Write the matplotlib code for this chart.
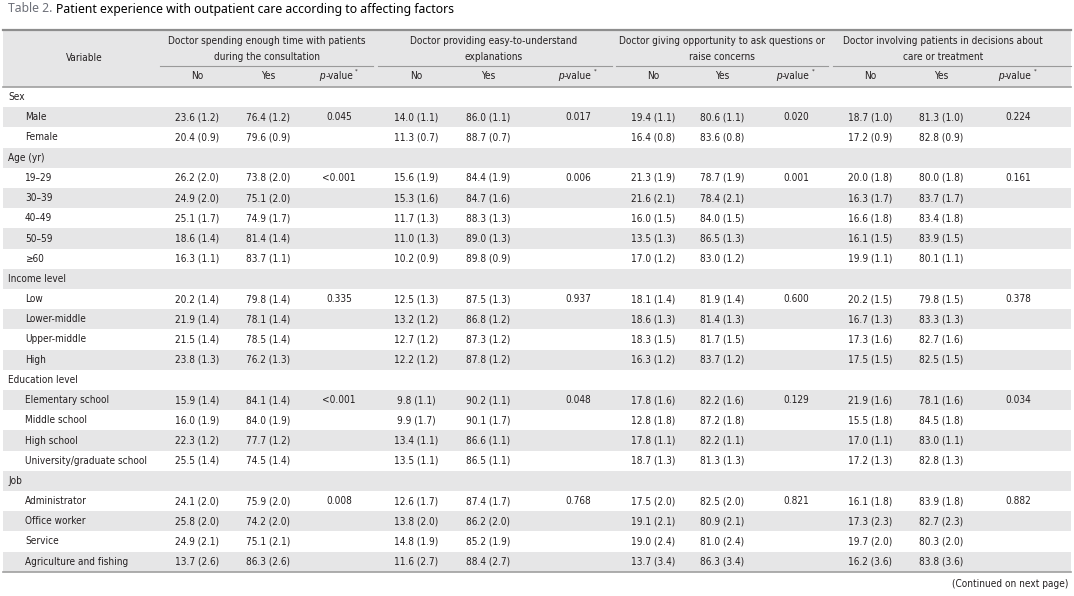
import matplotlib.pyplot as plt
from matplotlib import font_manager as fm
from matplotlib.patches import Rectangle

# Datos de la tabla
title_num = "Table 2."
title_txt = "Patient experience with outpatient care according to affecting factors"
questions = [("Doctor spending enough time with patients", "during the consultation"),
             ("Doctor providing easy-to-understand", "explanations"),
             ("Doctor giving opportunity to ask questions or", "raise concerns"),
             ("Doctor involving patients in decisions about", "care or treatment")]
categories = ["Sex", "Age (yr)", "Income level", "Education level", "Job"]
levels = [["Male", "Female"],
          ["19\u201329", "30\u201339", "40\u201349", "50\u201359", "\u226560"],
          ["Low", "Lower-middle", "Upper-middle", "High"],
          ["Elementary school", "Middle school", "High school", "University/graduate school"],
          ["Administrator", "Office worker", "Service", "Agriculture and fishing"]]

q1_no = [23.6, 20.4, 26.2, 24.9, 25.1, 18.6, 16.3, 20.2, 21.9, 21.5, 23.8, 15.9, 16.0, 22.3, 25.5, 24.1, 25.8, 24.9, 13.7]
q1_yes = [76.4, 79.6, 73.8, 75.1, 74.9, 81.4, 83.7, 79.8, 78.1, 78.5, 76.2, 84.1, 84.0, 77.7, 74.5, 75.9, 74.2, 75.1, 86.3]
q1_se = [1.2, 0.9, 2.0, 2.0, 1.7, 1.4, 1.1, 1.4, 1.4, 1.4, 1.3, 1.4, 1.9, 1.2, 1.4, 2.0, 2.0, 2.1, 2.6]
q1_p = ["0.045", "<0.001", "0.335", "<0.001", "0.008"]

q2_no = [14.0, 11.3, 15.6, 15.3, 11.7, 11.0, 10.2, 12.5, 13.2, 12.7, 12.2, 9.8, 9.9, 13.4, 13.5, 12.6, 13.8, 14.8, 11.6]
q2_yes = [86.0, 88.7, 84.4, 84.7, 88.3, 89.0, 89.8, 87.5, 86.8, 87.3, 87.8, 90.2, 90.1, 86.6, 86.5, 87.4, 86.2, 85.2, 88.4]
q2_se = [1.1, 0.7, 1.9, 1.6, 1.3, 1.3, 0.9, 1.3, 1.2, 1.2, 1.2, 1.1, 1.7, 1.1, 1.1, 1.7, 2.0, 1.9, 2.7]
q2_p = ["0.017", "0.006", "0.937", "0.048", "0.768"]

q3_no = [19.4, 16.4, 21.3, 21.6, 16.0, 13.5, 17.0, 18.1, 18.6, 18.3, 16.3, 17.8, 12.8, 17.8, 18.7, 17.5, 19.1, 19.0, 13.7]
q3_yes = [80.6, 83.6, 78.7, 78.4, 84.0, 86.5, 83.0, 81.9, 81.4, 81.7, 83.7, 82.2, 87.2, 82.2, 81.3, 82.5, 80.9, 81.0, 86.3]
q3_se = [1.1, 0.8, 1.9, 2.1, 1.5, 1.3, 1.2, 1.4, 1.3, 1.5, 1.2, 1.6, 1.8, 1.1, 1.3, 2.0, 2.1, 2.4, 3.4]
q3_p = ["0.020", "0.001", "0.600", "0.129", "0.821"]

q4_no = [18.7, 17.2, 20.0, 16.3, 16.6, 16.1, 19.9, 20.2, 16.7, 17.3, 17.5, 21.9, 15.5, 17.0, 17.2, 16.1, 17.3, 19.7, 16.2]
q4_yes = [81.3, 82.8, 80.0, 83.7, 83.4, 83.9, 80.1, 79.8, 83.3, 82.7, 82.5, 78.1, 84.5, 83.0, 82.8, 83.9, 82.7, 80.3, 83.8]
q4_se = [1.0, 0.9, 1.8, 1.7, 1.8, 1.5, 1.1, 1.5, 1.3, 1.6, 1.5, 1.6, 1.8, 1.1, 1.3, 1.8, 2.3, 2.0, 3.6]
q4_p = ["0.224", "0.161", "0.378", "0.034", "0.882"]

data = [(q1_no, q1_yes, q1_se, q1_p), (q2_no, q2_yes, q2_se, q2_p),
        (q3_no, q3_yes, q3_se, q3_p), (q4_no, q4_yes, q4_se, q4_p)]

# Fuente estrecha si existe
def find_font(style):
    fonts = fm.fontManager.ttflist
    for pred in (lambda f: f.name == "Liberation Sans Narrow",
                 lambda f: f.name == "DejaVu Sans" and "condensed" in str(f.stretch),
                 lambda f: f.name == "Liberation Sans"):
        for f in fonts:
            if pred(f) and f.style == style and f.weight in (400, "normal", "regular"):
                return f.fname
    return None

reg_path = find_font("normal")
it_path = find_font("italic") or find_font("oblique")

# Layout (pixeles)
W, H = 1074, 596
x0, x1 = 3, 1071
top, head_bot, row_h = 30, 87, 20.2
col_x = [(197, 268, 339), (416, 488, 578), (653, 722, 796), (870, 941, 1018)]
grp_c = [267, 494, 722, 943]
grp_line = [(160, 373), (378, 612), (616, 828), (833, 1071)]
txt_col = "#231f20"
band = "#e6e6e7"

fig = plt.figure(figsize=(W / 100, H / 100), dpi=100)
ax = fig.add_axes([0, 0, 1, 1])
ax.set_xlim(0, W)
ax.set_ylim(H, 0)
ax.axis("off")
r = fig.canvas.get_renderer()

# tamaño de letra ajustado al ancho de referencia
probe = ax.text(0, 0, "Agriculture and fishing", fontproperties=fm.FontProperties(fname=reg_path, size=10))
fs = min(9.2, 10 * 102 / probe.get_window_extent(r).width)
probe.remove()
fp = fm.FontProperties(fname=reg_path, size=fs)
fp_it = fm.FontProperties(fname=it_path, size=fs) if it_path else fm.FontProperties(fname=reg_path, size=fs, style="italic")
fp_star = fm.FontProperties(fname=reg_path, size=fs * 0.6)

# titulo
t = ax.text(8, 9, title_num + " ", fontsize=8.8, fontweight="bold", color="#6d7079",
            family=["Noto Sans", "DejaVu Sans"], va="center", ha="left")
bb = t.get_window_extent(r)
ax.text(bb.x1, 9, title_txt, fontsize=8.8, color="black",
        family=["Noto Sans", "DejaVu Sans"], va="center", ha="left")

def cell(x, y, s, ha="center"):
    ax.text(x, y, s, fontproperties=fp, color=txt_col, ha=ha, va="center")

def pvalue_label(cx, y):
    mid = ax.text(cx, y, "-value", fontproperties=fp, color=txt_col, ha="center", va="center")
    e = mid.get_window_extent(r)
    ax.text(e.x0 - 0.5, y, "p", fontproperties=fp_it, color=txt_col, ha="right", va="center")
    ax.text(e.x1 + 1.5, y - 5, "*", fontproperties=fp_star, color=txt_col, ha="left", va="center")

# encabezado
ax.add_patch(Rectangle((x0, top), x1 - x0, head_bot - top, color=band, lw=0))
ax.plot([x0, x1], [top, top], color="#8e8e8e", lw=1.6)
ax.plot([x0, x1], [head_bot, head_bot], color="#a0a0a0", lw=1.2)
cell(84, 58, "Variable")
for g in range(4):
    cell(grp_c[g], 41, questions[g][0])
    cell(grp_c[g], 57, questions[g][1])
    ax.plot(grp_line[g], [66, 66], color="#9a9a9a", lw=0.8)
    cx = col_x[g]
    cell(cx[0], 76, "No")
    cell(cx[1], 76, "Yes")
    pvalue_label(cx[2], 76)

# filas
rows = []
n = 0
for ci, cat in enumerate(categories):
    rows.append((cat, None, ci))
    for j, lv in enumerate(levels[ci]):
        rows.append((lv, n, ci, j == 0))
        n += 1

for i, row in enumerate(rows):
    y0 = head_bot + i * row_h
    yc = y0 + row_h / 2
    if i % 2 == 1:
        ax.add_patch(Rectangle((x0, y0), x1 - x0, row_h, color=band, lw=0))
    if row[1] is None:
        cell(8, yc, row[0], ha="left")
        continue
    label, idx, ci, first = row
    cell(25, yc, label, ha="left")
    for g, (no, yes, se, pv) in enumerate(data):
        cx = col_x[g]
        cell(cx[0], yc, f"{no[idx]:.1f} ({se[idx]:.1f})")
        cell(cx[1], yc, f"{yes[idx]:.1f} ({se[idx]:.1f})")
        if first:
            cell(cx[2], yc, pv[ci])

bottom = head_bot + len(rows) * row_h
ax.plot([x0, x1], [bottom, bottom], color="#a0a0a0", lw=1.2)
cell(1068, 584, "(Continued on next page)", ha="right")

fig.savefig("out.png", dpi=100)
